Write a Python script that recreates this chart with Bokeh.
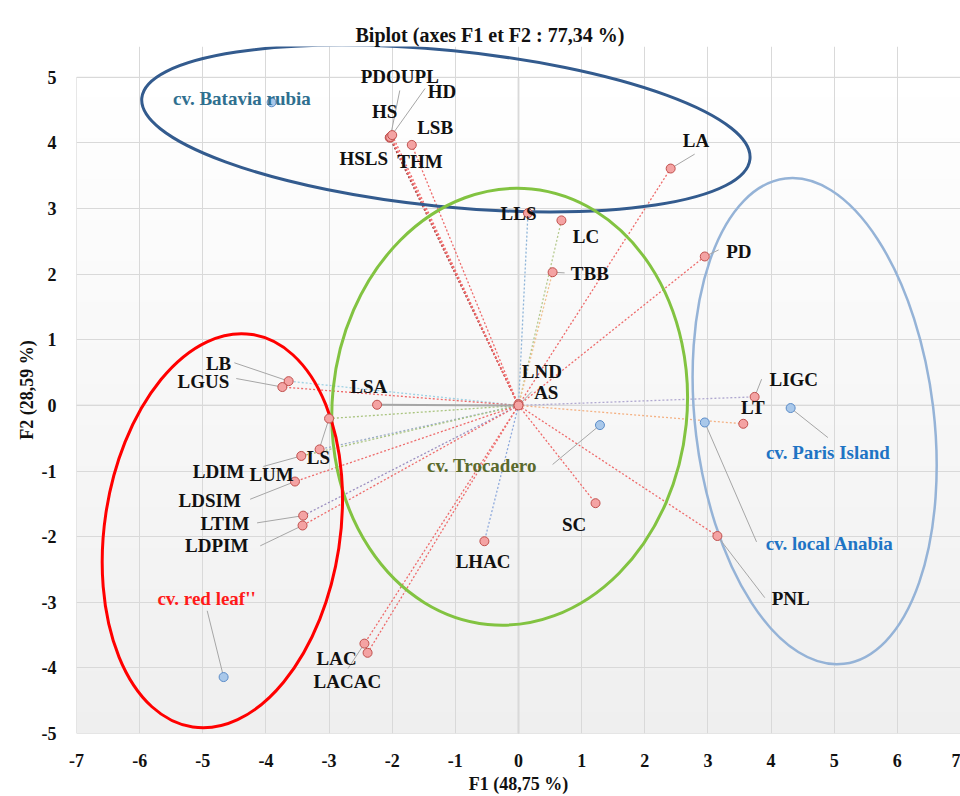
import numpy as np
from bokeh.plotting import figure
from bokeh.models import (Range1d, FixedTicker, ColumnDataSource, LabelSet,
                          CustomJSTickFormatter)
from bokeh.embed import file_html
from bokeh.resources import INLINE
from bokeh.core.properties import value

FONT = "Liberation Serif"

# ---------------- data ----------------
title_text = "Biplot  (axes F1 et F2 : 77,34 %)"
x_title = "F1 (48,75 %)"
y_title = "F2 (28,59 %)"
x_ticks = list(range(-7, 8))
y_ticks = list(range(-5, 6))

# variables (pink points)
var_names = ["PDOUPL", "HD", "HS", "HSLS", "LSB", "THM", "LA", "LLS", "LC", "TBB",
             "PD", "LB", "LGUS", "LSA", "LS", "LUM", "LDIM", "LDSIM", "LTIM", "LDPIM",
             "LND", "AS", "SC", "LHAC", "LIGC", "LT", "PNL", "LAC", "LACAC"]
var_f1 = [-2.03, -2.02, -2.04, -2.03, -2.00, -1.69, 2.41, 0.15, 0.68, 0.54,
          2.95, -3.64, -3.74, -2.24, -3.00, -3.15, -3.44, -3.54, -3.41, -3.42,
          0.00, 0.00, 1.22, -0.54, 3.74, 3.56, 3.15, -2.44, -2.39]
var_f2 = [4.09, 4.10, 4.08, 4.09, 4.12, 3.97, 3.61, 2.93, 2.82, 2.03,
          2.27, 0.37, 0.28, 0.01, -0.20, -0.67, -0.77, -1.16, -1.68, -1.83,
          0.02, 0.00, -1.49, -2.07, 0.13, -0.28, -1.99, -3.63, -3.77]

# observations (blue points)
obs_names = ["cv. Batavia rubia", "cv. Paris Island", "cv. local Anabia",
             "cv. Trocadero", "cv. red leaf''"]
obs_f1 = [-3.91, 4.31, 2.95, 1.29, -4.67]
obs_f2 = [4.62, -0.04, -0.26, -0.30, -4.14]

# ---------------- annotation layout ----------------
var_lab_x = [-1.88, -1.21, -2.12, -2.45, -1.32, -1.56, 2.81, 0.00, 1.07, 1.13,
             3.49, -4.75, -4.99, -2.37, -3.17, -3.91, -4.75, -4.89, -4.65, -4.78,
             0.37, 0.44, 0.88, -0.56, 4.36, 3.71, 4.31, -2.88, -2.71]
var_lab_y = [5.02, 4.79, 4.48, 3.77, 4.24, 3.71, 4.03, 2.93, 2.57, 2.01,
             2.34, 0.64, 0.36, 0.29, -0.79, -1.06, -1.01, -1.45, -1.80, -2.14,
             0.51, 0.19, -1.82, -2.38, 0.40, -0.03, -2.95, -3.86, -4.21]
var_line_color = ["#ee6a6a", "#ee6a6a", "#8a3a3a", "#ee6a6a", "#ee6a6a", "#ee6a6a",
                  "#ee6a6a", "#8eb4d8", "#b5c98e", "#f0c090", "#ee6a6a", "#9fd2e4",
                  "#ee6a6a", "#a6a6a6", "#a9c47f", "#9aabc8", "#a9c47f", "#ee6a6a",
                  "#9b8fc0", "#ee6a6a", "#ee6a6a", "#ee6a6a", "#ee6a6a", "#8faadc",
                  "#b0a8d0", "#f4b183", "#ee6a6a", "#ee6a6a", "#ee6a6a"]

obs_lab_x = [-4.38, 4.90, 4.93, -0.58, -4.94]
obs_lab_y = [4.68, -0.71, -2.10, -0.91, -2.95]
obs_lab_color = ["#2f6f8f", "#1f74c4", "#1f74c4", "#5a6a2c", "#ff1a1a"]

# leader lines: (label name, start x, start y) -> point of that name
var_leaders = [("PDOUPL", -1.88, 4.80), ("HD", -1.48, 4.83), ("LA", 2.79, 3.83),
               ("TBB", 0.73, 2.02), ("PD", 3.17, 2.37), ("LB", -4.50, 0.65),
               ("LGUS", -4.47, 0.41), ("LS", -3.14, -0.62), ("LDIM", -4.04, -0.93),
               ("LDSIM", -4.25, -1.43), ("LTIM", -4.14, -1.79), ("LDPIM", -4.09, -2.14),
               ("AS", 0.21, 0.21), ("LIGC", 3.85, 0.40), ("PNL", 3.90, -2.93),
               ("LAC", -2.70, -4.01)]
obs_leaders = [("cv. Paris Island", 4.90, -0.49), ("cv. local Anabia", 3.77, -2.08),
               ("cv. Trocadero", 0.54, -0.90), ("cv. red leaf''", -4.93, -3.13)]

# group ellipses
ell_x = [-1.15, -0.14, -4.69, 4.69]
ell_y = [4.22, -0.02, -1.91, -0.24]
ell_w = [9.68, 5.62, 3.73, 3.78]
ell_h = [2.38, 6.67, 6.05, 7.45]
ell_angle = [-0.10, -0.10, -0.15, 0.12]
ell_color = ["#335b8e", "#82c341", "#ff0000", "#95b3d7"]
ell_lw = [3, 3, 3, 2.5]

# ---------------- figure ----------------
X0, X1, Y0, Y1 = -7, 7, -5, 5          # plotted area
Y_TOP = 5.47                           # blank head-room above the plot area
p = figure(width=960, height=796, x_range=Range1d(X0, X1), y_range=Range1d(Y0, Y_TOP),
           output_backend="svg", toolbar_location=None,
           min_border_left=76, min_border_right=0, min_border_top=46, min_border_bottom=61,
           title=title_text)
p.title.text_font = FONT
p.title.text_font_style = "bold"
p.title.text_font_size = "20px"
p.title.align = "left"
p.title.offset = 279
p.title.standoff = 1
p.title.text_color = "#111111"

p.outline_line_color = None
p.background_fill_color = "white"

# soft vertical gradient in the plot area
N = 64
img = np.empty((N, 1), dtype=np.uint32)
view = img.view(dtype=np.uint8).reshape((N, 1, 4))
for i in range(N):
    g = int(round(239 + 16 * i / (N - 1)))
    view[i, 0, :] = [g, g, g, 255]
p.image_rgba(image=[img], x=X0, y=Y0, dw=X1 - X0, dh=Y1 - Y0, level="image")

fmt_code = "return tick.toString();"
for ax, ticks, lab in ((p.xaxis, x_ticks, x_title), (p.yaxis, y_ticks, y_title)):
    ax.ticker = FixedTicker(ticks=ticks)
    ax.formatter = CustomJSTickFormatter(code=fmt_code)
    ax.major_label_text_font = FONT
    ax.major_label_text_font_style = "bold"
    ax.major_label_text_font_size = "18px"
    ax.major_label_text_color = "#111111"
    ax.major_tick_line_color = None
    ax.minor_tick_line_color = None
    ax.axis_line_color = None
    ax.axis_label = lab
    ax.axis_label_text_font = FONT
    ax.axis_label_text_font_style = "bold"
    ax.axis_label_text_font_size = "18px"
    ax.axis_label_text_color = "#111111"
p.xaxis.major_label_standoff = 14
p.xaxis.axis_label_standoff = 4
p.yaxis.major_label_standoff = 14
p.yaxis.axis_label_standoff = 2

p.xgrid.ticker = FixedTicker(ticks=x_ticks)
p.ygrid.ticker = FixedTicker(ticks=y_ticks)
for g in (p.xgrid, p.ygrid):
    g.grid_line_color = "#d9d9d9"
    g.grid_line_width = 1

# blank head-room above the plot area, plot-area border and zero line
p.quad(left=[X0], right=[X1], bottom=[Y1], top=[Y_TOP], fill_color="white",
       line_color=None, level="underlay")
p.quad(left=[X0], right=[X1], bottom=[Y0], top=[Y1], fill_color=None,
       line_color="#d0d0d0", line_width=1, level="underlay")
p.segment(x0=[0], y0=[Y0], x1=[0], y1=[Y1], line_color="#bfbfbf", line_width=1.5,
          level="underlay")
p.segment(x0=[X0], y0=[0], x1=[X1], y1=[0], line_color="#cccccc", line_width=1.2,
          level="underlay")

# vectors from origin
n = len(var_names)
dash_idx = [i for i in range(n) if var_names[i] != "LSA"]
p.segment(x0=[0] * len(dash_idx), y0=[0] * len(dash_idx),
          x1=[var_f1[i] for i in dash_idx], y1=[var_f2[i] for i in dash_idx],
          line_color=[var_line_color[i] for i in dash_idx], line_dash="2 2", line_width=1.3)
k = var_names.index("LSA")
p.segment(x0=[0], y0=[0], x1=[var_f1[k]], y1=[var_f2[k]], line_color="#a6a6a6", line_width=2)

# ellipses
p.ellipse(x=ell_x, y=ell_y, width=ell_w, height=ell_h, angle=ell_angle,
          fill_color=None, line_color=ell_color, line_width=ell_lw)

# leader lines
lx0, ly0, lx1, ly1 = [], [], [], []
for name, sx, sy in var_leaders:
    i = var_names.index(name)
    lx0.append(sx); ly0.append(sy); lx1.append(var_f1[i]); ly1.append(var_f2[i])
for name, sx, sy in obs_leaders:
    i = obs_names.index(name)
    lx0.append(sx); ly0.append(sy); lx1.append(obs_f1[i]); ly1.append(obs_f2[i])
p.segment(x0=lx0, y0=ly0, x1=lx1, y1=ly1, line_color="#a6a6a6", line_width=1)

# points
p.scatter(x=var_f1, y=var_f2, size=9, fill_color="#f4a3a3", line_color="#c0504d", line_width=1)
p.scatter(x=obs_f1, y=obs_f2, size=9, fill_color="#a9c8ea", line_color="#5b8cc8", line_width=1)

# labels
var_src = ColumnDataSource(dict(x=var_lab_x, y=var_lab_y, text=var_names))
p.add_layout(LabelSet(x="x", y="y", text="text", source=var_src,
                      text_font=value(FONT), text_font_style="bold", text_font_size="19px",
                      text_align="center", text_baseline="middle", text_color="#111111"))
obs_src = ColumnDataSource(dict(x=obs_lab_x, y=obs_lab_y, text=obs_names, color=obs_lab_color))
p.add_layout(LabelSet(x="x", y="y", text="text", source=obs_src,
                      text_font=value(FONT), text_font_style="bold", text_font_size="19px",
                      text_align="center", text_baseline="middle", text_color="color"))

open("out.html", "w").write(file_html(p, INLINE))
